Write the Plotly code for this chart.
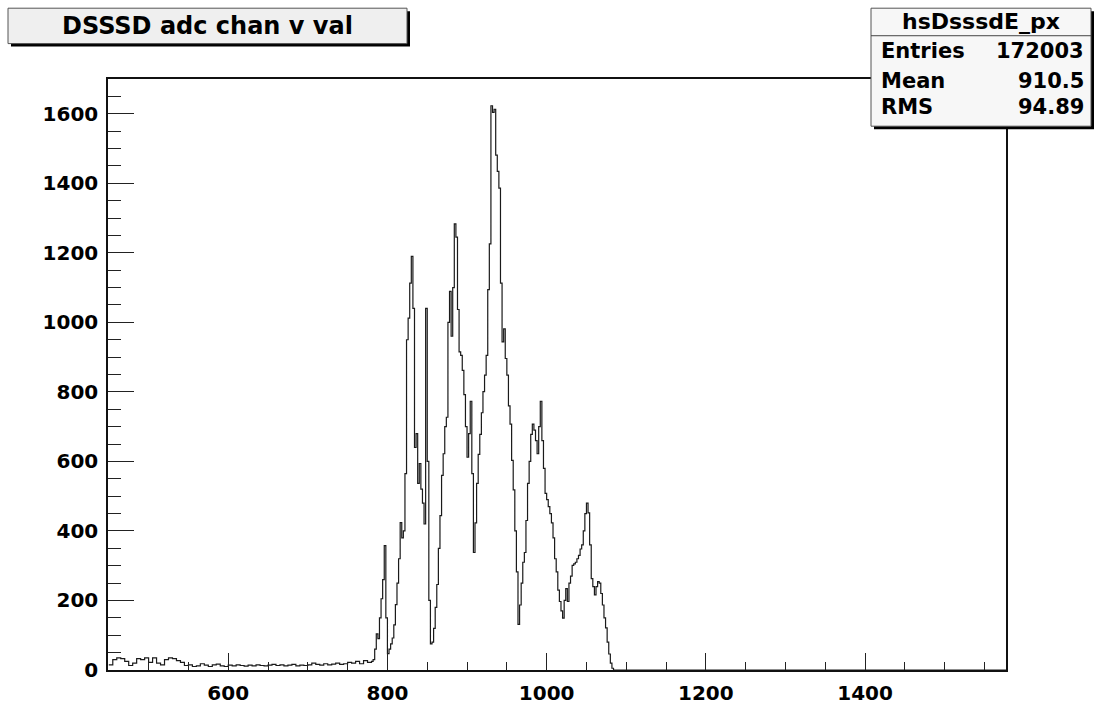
import plotly.graph_objects as go

# ---------------- data ----------------
title_text = "DSSSD adc chan v val"
stats_name = "hsDsssdE_px"
stats_labels = ["Entries", "Mean", "RMS"]
stats_values = ["172003", "910.5", "94.89"]

x_range = [449, 1577]
y_range = [0, 1700]

# low, flat region: bins of 5 channels starting at 450
low_start = 450
low_width = 5
low_counts = [15, 30, 35, 33, 25, 13, 20, 33, 30, 35, 22, 35, 20, 15, 30, 35, 33, 27, 22, 13,
              15, 10, 12, 18, 14, 10, 15, 17, 12, 10, 14, 12, 15, 13, 11, 14, 12, 15, 13, 12,
              14, 16, 13, 15, 12, 14, 16, 12, 14, 13, 15, 20, 16, 14, 18, 15, 17, 20, 16, 18,
              22, 20, 25, 18, 27, 22]

# peak region: bins of 2 channels starting at 780
peak_start = 780
peak_width = 2
peak_counts = [25, 30, 60, 104, 90, 150, 205, 260, 358, 150,
               47, 60, 75, 92, 130, 188, 250, 320, 424, 380,
               400, 565, 950, 1012, 1113, 1190, 1040, 640, 680, 537,
               594, 520, 480, 420, 1040, 600, 200, 75, 80, 120,
               180, 246, 350, 444, 560, 622, 700, 727, 1000, 1089,
               960, 1100, 1283, 1245, 1037, 915, 905, 862, 792, 700,
               612, 680, 773, 565, 338, 423, 537, 620, 678, 740,
               801, 848, 905, 1094, 1226, 1623, 1604, 1613, 1481, 1434,
               1386, 1113, 944, 981, 896, 848, 760, 707, 603, 518,
               400, 282, 131, 187, 250, 310, 338, 430, 537, 600,
               678, 707, 690, 660, 622, 700, 773, 660, 580, 508,
               490, 470, 450, 423, 380, 320, 282, 230, 197, 170,
               149, 200, 234, 197, 250, 270, 301, 305, 310, 320,
               330, 348, 360, 400, 450, 480, 452, 360, 263, 240,
               216, 240, 254, 250, 220, 187, 150, 121, 80, 46,
               20, 5, 0]

# ---------------- build step outline ----------------
xs, ys = [], []
for i, c in enumerate(low_counts):
    xs.append(low_start + i * low_width)
    ys.append(c)
for i, c in enumerate(peak_counts):
    xs.append(peak_start + i * peak_width)
    ys.append(c)
xs.append(peak_start + len(peak_counts) * peak_width)
ys.append(0)
xs.append(x_range[1])
ys.append(0)

W, H = 1097, 717
L, R, T, B = 108, 1006, 79, 680
pw, ph = R - L, B - T


def px(x):
    return (x - L) / pw


def py(y):
    return (B - y) / ph


fig = go.Figure()
fig.add_trace(go.Scatter(x=xs, y=ys, mode="lines", line=dict(color="#1a1a1a", width=1.2, shape="hv"),
                         hoverinfo="skip", showlegend=False))

tickfont = dict(family="DejaVu Sans", size=20, color="black", weight="bold")
fig.update_layout(
    width=W, height=H,
    margin=dict(l=L, r=W - R, t=T, b=H - B),
    paper_bgcolor="white", plot_bgcolor="white",
    showlegend=False,
    xaxis=dict(range=x_range, showgrid=False, zeroline=False, showline=True, linecolor="#111",
               linewidth=1.5, mirror=True, ticks="inside", ticklen=17, tickwidth=1, tickcolor="#222",
               dtick=200, tick0=0, tickfont=tickfont, ticklabelstandoff=4,
               minor=dict(ticks="inside", ticklen=8, dtick=50, tick0=0, tickcolor="#222", showgrid=False)),
    yaxis=dict(range=y_range, showgrid=False, zeroline=False, showline=True, linecolor="#111",
               linewidth=1.5, mirror=True, ticks="inside", ticklen=26, tickwidth=1, tickcolor="#222",
               dtick=200, tick0=0, tickfont=tickfont, ticklabelstandoff=4,
               minor=dict(ticks="inside", ticklen=13, dtick=50, tick0=0, tickcolor="#222", showgrid=False)),
)

shapes = []
# title box with shadow
tb = (8, 7, 407, 43)
shapes.append(dict(type="rect", xref="paper", yref="paper", x0=px(tb[0] + 3), x1=px(tb[2] + 3),
                   y0=py(tb[3] + 3), y1=py(tb[1] + 3), fillcolor="black", line=dict(width=0), layer="above"))
shapes.append(dict(type="rect", xref="paper", yref="paper", x0=px(tb[0]), x1=px(tb[2]),
                   y0=py(tb[3]), y1=py(tb[1]), fillcolor="#efefef", line=dict(color="#555", width=1), layer="above"))
# stats box with shadow
sb = (871, 7, 1091, 127)
shapes.append(dict(type="rect", xref="paper", yref="paper", x0=px(sb[0] + 3), x1=px(sb[2] + 3),
                   y0=py(sb[3] + 3), y1=py(sb[1] + 3), fillcolor="black", line=dict(width=0), layer="above"))
shapes.append(dict(type="rect", xref="paper", yref="paper", x0=px(sb[0]), x1=px(sb[2]),
                   y0=py(sb[3]), y1=py(sb[1]), fillcolor="#f7f7f7", line=dict(color="#555", width=1), layer="above"))
shapes.append(dict(type="line", xref="paper", yref="paper", x0=px(sb[0]), x1=px(sb[2]),
                   y0=py(35), y1=py(35), line=dict(color="#444", width=1), layer="above"))
fig.update_layout(shapes=shapes)

font_big = dict(family="DejaVu Sans", size=24, color="black", weight="bold")
font_st = dict(family="DejaVu Sans", size=21, color="black", weight="bold")
ann = [dict(text=title_text, xref="paper", yref="paper", x=px((tb[0] + tb[2]) / 2), y=py(25),
            xanchor="center", yanchor="middle", showarrow=False, font=font_big)]
ann.append(dict(text=stats_name, xref="paper", yref="paper", x=px((sb[0] + sb[2]) / 2), y=py(21),
                xanchor="center", yanchor="middle", showarrow=False,
                font=dict(family="DejaVu Sans", size=22, color="black", weight="bold")))
rows_y = [51, 81, 107]
for lab, val, yy in zip(stats_labels, stats_values, rows_y):
    ann.append(dict(text=lab, xref="paper", yref="paper", x=px(879), y=py(yy), xanchor="left",
                    yanchor="middle", showarrow=False, font=font_st))
    ann.append(dict(text=val, xref="paper", yref="paper", x=px(1086), y=py(yy), xanchor="right",
                    yanchor="middle", showarrow=False, font=font_st))
fig.update_layout(annotations=ann)

fig.write_html("out.html")
